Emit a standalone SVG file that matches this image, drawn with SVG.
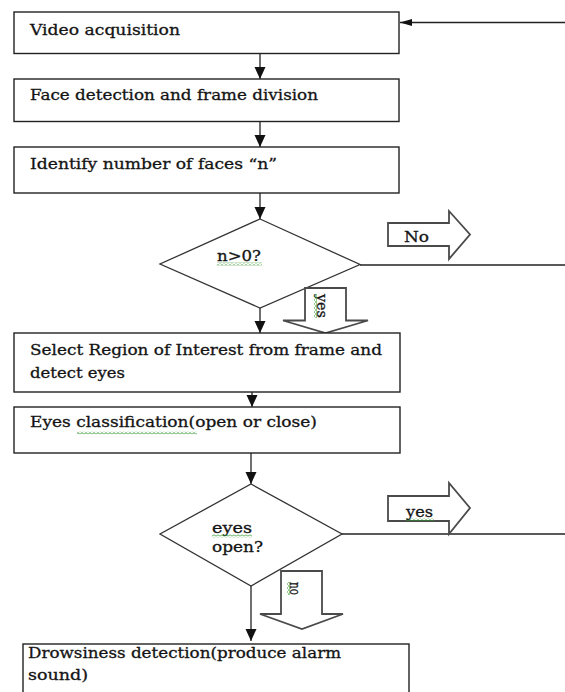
<svg xmlns="http://www.w3.org/2000/svg" width="565" height="692" viewBox="0 0 565 692">
<style>
.box{fill:#fff;stroke:#222;stroke-width:1.4}
.dia{fill:#fff;stroke:#333;stroke-width:1.3}
.blk{fill:#fff;stroke:#4a4a4a;stroke-width:1.8;stroke-linejoin:miter}
.ln{stroke:#222;stroke-width:1.3;fill:none}
.t{font-family:"DejaVu Serif","Liberation Serif",serif;font-size:15px;fill:#141414;stroke:#141414;stroke-width:0.3}
.sq{fill:url(#sq)}
</style>
<defs>
<marker id="ah" markerUnits="userSpaceOnUse" markerWidth="12" markerHeight="12" viewBox="0 0 12 12" refX="12" refY="6" orient="auto">
<path d="M0,0.5 L12,6 L0,11.5 Z" fill="#111"/>
</marker>
<marker id="ahs" markerUnits="userSpaceOnUse" markerWidth="12" markerHeight="8" viewBox="0 0 12 8" refX="12" refY="4" orient="auto">
<path d="M0,0.5 L12,4 L0,7.5 Z" fill="#111"/>
</marker>
<pattern id="sq" patternUnits="userSpaceOnUse" width="4" height="3">
<polyline points="0,2.5 2,0.5 4,2.5" fill="none" stroke="#2f9a2f" stroke-width="1"/>
</pattern>
<pattern id="sqv" patternUnits="userSpaceOnUse" width="3" height="4">
<polyline points="2.5,0 0.5,2 2.5,4" fill="none" stroke="#2f9a2f" stroke-width="1"/>
</pattern>
</defs>

<g id="connectors">
<line class="ln" x1="565" y1="22.5" x2="400" y2="22.5" marker-end="url(#ahs)"/>
<line class="ln" x1="260" y1="53" x2="260" y2="79" marker-end="url(#ah)"/>
<line class="ln" x1="260" y1="122" x2="260" y2="147" marker-end="url(#ah)"/>
<line class="ln" x1="260" y1="193" x2="260" y2="219" marker-end="url(#ah)"/>
<line class="ln" x1="360" y1="265" x2="565" y2="265"/>
<line class="ln" x1="260" y1="308" x2="260" y2="333" marker-end="url(#ah)"/>
<line class="ln" x1="252" y1="392" x2="252" y2="407" marker-end="url(#ah)"/>
<line class="ln" x1="251" y1="453" x2="251" y2="484" marker-end="url(#ah)"/>
<line class="ln" x1="342" y1="534" x2="565" y2="534"/>
<line class="ln" x1="251" y1="586" x2="251" y2="641" marker-end="url(#ah)"/>
</g>

<g id="video">
<rect class="box" x="14" y="12" width="385" height="41.5"/>
<text class="t" x="30" y="34.5" textLength="150" lengthAdjust="spacingAndGlyphs">Video acquisition</text>
</g>

<g id="face">
<rect class="box" x="14" y="79" width="385" height="42.5"/>
<text class="t" x="30" y="100" textLength="288" lengthAdjust="spacingAndGlyphs">Face detection and frame division</text>
</g>

<g id="identify">
<rect class="box" x="14" y="147" width="385" height="46"/>
<text class="t" x="30" y="169" textLength="247" lengthAdjust="spacingAndGlyphs">Identify number of faces “n”</text>
</g>

<g id="decision1">
<polygon class="dia" points="260,219 360,264.5 260,308 160,264"/>
<text class="t" x="217" y="261" textLength="44" lengthAdjust="spacingAndGlyphs">n&gt;0?</text>
<rect class="sq" x="217" y="262.5" width="45" height="3"/>
</g>

<g id="no-arrow1">
<polygon class="blk" points="388,223 449,223 449,211 470,234.5 449,259 449,246 388,246"/>
<text class="t" x="404" y="241.5" textLength="25" lengthAdjust="spacingAndGlyphs">No</text>
</g>

<g id="yes-arrow1">
<polygon class="blk" points="305,288 346,288 346,320.5 368,320.5 325.5,333 283,320.5 305,320.5"/>
<text class="t" transform="translate(317,294) rotate(90)" x="0" y="0" font-size="14" textLength="24" lengthAdjust="spacingAndGlyphs">yes</text>
<rect x="314" y="294" width="3" height="24" fill="url(#sqv)"/>
</g>

<g id="roi">
<rect class="box" x="14" y="333" width="386" height="59"/>
<text class="t" x="30" y="355" textLength="352" lengthAdjust="spacingAndGlyphs">Select Region of Interest from frame and</text>
<text class="t" x="30" y="378" textLength="95" lengthAdjust="spacingAndGlyphs">detect eyes</text>
</g>

<g id="classify">
<rect class="box" x="14" y="407" width="386" height="46"/>
<text class="t" x="30" y="427" textLength="287" lengthAdjust="spacingAndGlyphs">Eyes classification(open or close)</text>
<rect class="sq" x="77" y="431.5" width="120" height="3"/>
</g>

<g id="decision2">
<polygon class="dia" points="251,484 342,534 251,586 160,534"/>
<text class="t" x="212" y="533" textLength="40" lengthAdjust="spacingAndGlyphs">eyes</text>
<rect class="sq" x="212" y="534.5" width="40" height="3"/>
<text class="t" x="212" y="552" textLength="51" lengthAdjust="spacingAndGlyphs">open?</text>
</g>

<g id="yes-arrow2">
<polygon class="blk" points="388,496 449,496 449,483 470,508 449,534 449,521 388,521"/>
<text class="t" x="406" y="516.5" textLength="27" lengthAdjust="spacingAndGlyphs">yes</text>
<rect class="sq" x="406" y="518" width="28" height="3"/>
</g>

<g id="no-arrow2">
<polygon class="blk" points="281,571 322,571 322,614 343,614 302,629 260,614 281,614"/>
<text class="t" transform="translate(290,582) rotate(90)" x="0" y="0" font-size="14" textLength="13" lengthAdjust="spacingAndGlyphs">no</text>
<rect x="287" y="582" width="3" height="13" fill="url(#sqv)"/>
</g>

<g id="drowsiness">
<rect class="box" x="23" y="644" width="386" height="60"/>
<text class="t" x="28" y="658" font-size="15.5" textLength="313" lengthAdjust="spacingAndGlyphs">Drowsiness detection(produce alarm</text>
<text class="t" x="28" y="680" font-size="15.5" textLength="60" lengthAdjust="spacingAndGlyphs">sound)</text>
</g>
</svg>
